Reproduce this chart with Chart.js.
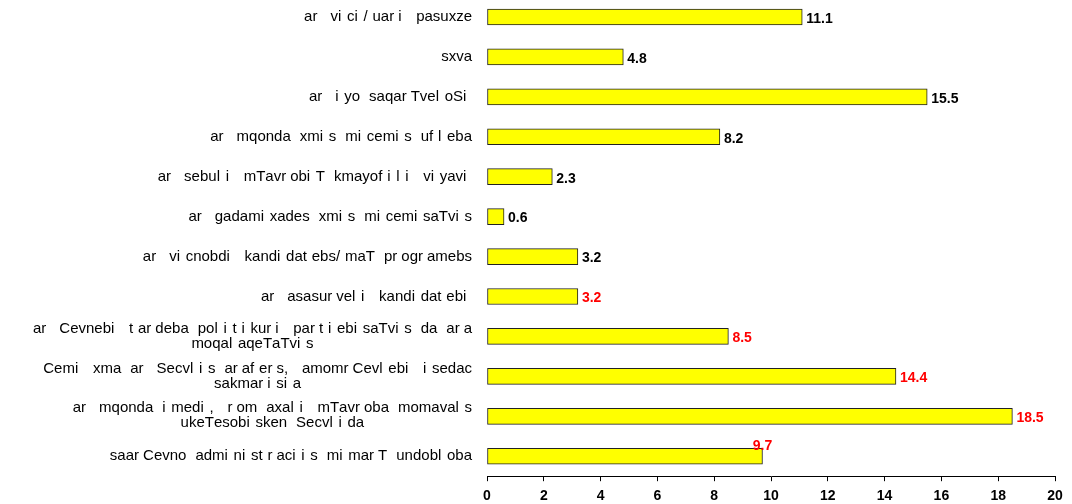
<!DOCTYPE html>
<html>
<head>
<meta charset="utf-8">
<script src="https://cdn.jsdelivr.net/npm/chart.js@4/dist/chart.umd.min.js"></script>
<style>
  html, body { margin: 0; padding: 0; background: #fff; overflow: hidden; }
  #answersChart { position: absolute; left: 0; top: -3px; }
</style>
</head>
<body>
<canvas id="answersChart" width="1072" height="517"></canvas>
<script>
// answer categories, top to bottom (second entry = wrapped line)
const categories = [
  ["ar vici/uari pasuxze"],
  ["sxva"],
  ["ar iyo saqarTveloSi"],
  ["ar mqonda xmis micemis ufleba"],
  ["ar sebuli mTavrobiT kmayofili viyavi"],
  ["ar gadamixades xmis micemisaTvis"],
  ["ar vicnobdi kandidatebs/maT programebs"],
  ["ar asasurveli kandidatebi"],
  ["ar Cevnebi tardeba politikuri partiebisaTvis da ara", "moqalaqeTaTvis"],
  ["Cemi xma ar Secvlis arafers, amomrCevlebi isedac", "sakmarisia"],
  ["ar mqonda imedi, rom axali mTavroba momavals", "ukeTesobisken Secvlida"],
  ["saarCevno administraciis mimarT undobloba"]
];
const values = [11.1, 4.8, 15.5, 8.2, 2.3, 0.6, 3.2, 3.2, 8.5, 14.4, 18.5, 9.7];
const labelColors = ["#000", "#000", "#000", "#000", "#000", "#000", "#000",
  "#ff0000", "#ff0000", "#ff0000", "#ff0000", "#ff0000"];

const FONT = "'Liberation Sans', Arial, sans-serif";
// the source font gives narrow letters a wide advance
const NARROW = "iljrtf /,";
const NARROW_ADV = 9;

function advance(ctx, ch) {
  const w = ctx.measureText(ch).width;
  return NARROW.includes(ch) ? Math.max(w, NARROW_ADV) : w;
}

function spacedWidth(ctx, text) {
  let w = 0;
  for (const ch of text) w += advance(ctx, ch);
  return w;
}

function drawSpaced(ctx, text, x, y) {
  ctx.textAlign = "left";
  for (const ch of text) {
    ctx.fillText(ch, x, y);
    x += advance(ctx, ch);
  }
}

// draws the category names on the left and the value next to each bar
const barLabels = {
  id: "barLabels",
  afterDraw(chart) {
    const ctx = chart.ctx;
    const yScale = chart.scales.y;
    const right = chart.chartArea.left - 15;
    ctx.save();
    ctx.textBaseline = "middle";
    ctx.font = "15px " + FONT;
    ctx.fillStyle = "#000";
    categories.forEach((lines, i) => {
      const y = yScale.getPixelForValue(i);
      const w1 = spacedWidth(ctx, lines[0]);
      if (lines.length === 1) {
        drawSpaced(ctx, lines[0], right - w1, y);
      } else {
        const w2 = spacedWidth(ctx, lines[1]);
        drawSpaced(ctx, lines[0], right - w1, y - 8);
        drawSpaced(ctx, lines[1], right - w1 / 2 - w2 / 2, y + 7);
      }
    });

    ctx.font = "bold 14px " + FONT;
    const bars = chart.getDatasetMeta(0).data;
    bars.forEach((bar, i) => {
      ctx.fillStyle = labelColors[i];
      if (i === bars.length - 1) {
        ctx.textAlign = "center";
        ctx.fillText(values[i].toFixed(1), bar.x, bar.y - 10);
      } else {
        ctx.textAlign = "left";
        ctx.fillText(values[i].toFixed(1), bar.x + 4, bar.y + 2);
      }
    });
    ctx.restore();
  }
};

new Chart(document.getElementById("answersChart"), {
  type: "bar",
  data: {
    labels: categories,
    datasets: [{
      data: values,
      backgroundColor: "#ffff00",
      borderColor: "#222",
      borderWidth: 1,
      borderSkipped: false,
      barThickness: 16
    }]
  },
  options: {
    indexAxis: "y",
    responsive: false,
    animation: false,
    layout: { padding: { left: 487, right: 17, top: 0, bottom: 2 } },
    plugins: {
      legend: { display: false },
      tooltip: { enabled: false }
    },
    scales: {
      y: { display: false },
      x: {
        min: 0,
        max: 20,
        ticks: {
          stepSize: 2,
          color: "#000",
          padding: 7,
          font: { family: FONT, size: 14, weight: "bold" }
        },
        grid: { drawOnChartArea: false, tickLength: 5, color: "#000" },
        border: { display: true, color: "#000", width: 1 }
      }
    }
  },
  plugins: [barLabels]
});
</script>
</body>
</html>
